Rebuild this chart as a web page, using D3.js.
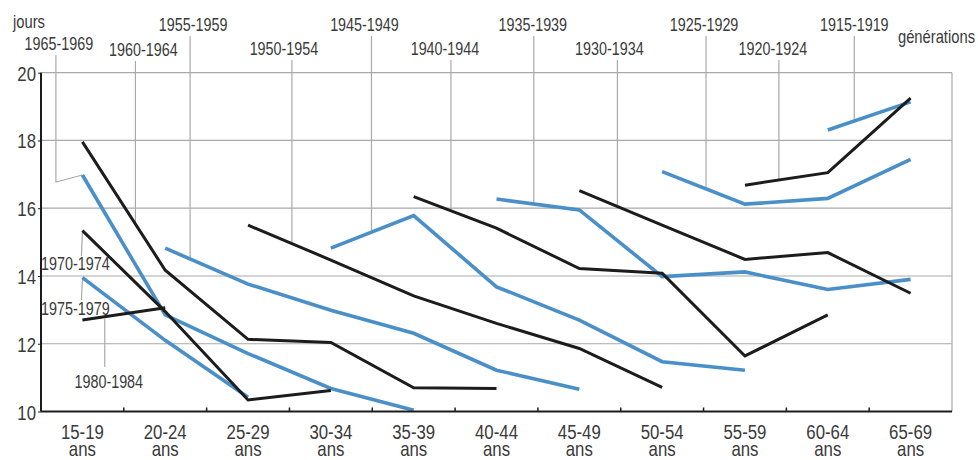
<!DOCTYPE html>
<html>
<head>
<meta charset="utf-8">
<script src="https://cdn.jsdelivr.net/npm/d3@7"></script>
<style>
  body { margin: 0; background: #fff; }
  svg text { font-family: "Liberation Sans", Arial, sans-serif; fill: #3a3a3a; }
</style>
</head>
<body>
<svg id="chart" width="978" height="460"></svg>
<script>
// DATA
const ages = ["15-19", "20-24", "25-29", "30-34", "35-39", "40-44", "45-49", "50-54", "55-59", "60-64", "65-69"];
const yTicks = [10, 12, 14, 16, 18, 20];

const generations = ["1915-1919", "1920-1924", "1925-1929", "1930-1934", "1935-1939", "1940-1944", "1945-1949",
  "1950-1954", "1955-1959", "1960-1964", "1965-1969", "1970-1974", "1975-1979", "1980-1984"];
// first age group observed for each generation
const firstAge = ["60-64", "55-59", "50-54", "45-49", "40-44", "35-39", "30-34",
  "25-29", "20-24", "15-19", "15-19", "15-19", "15-19", "15-19"];
// jours, one value per age group from firstAge on
const days = [
  [18.31, 19.14],
  [16.68, 17.05, 19.25],
  [17.08, 16.12, 16.29, 17.44],
  [16.52, 15.5, 14.49, 14.69, 13.49],
  [16.27, 15.95, 13.98, 14.12, 13.6, 13.9],
  [16.34, 15.41, 14.22, 14.08, 11.64, 12.85],
  [14.82, 15.78, 13.68, 12.7, 11.47, 11.22],
  [15.5, 14.47, 13.41, 12.6, 11.86, 10.71],
  [14.82, 13.76, 12.99, 12.31, 11.22, 10.66],
  [17.96, 14.17, 12.13, 12.04, 10.7, 10.68],
  [16.98, 12.85, 11.71, 10.68, 10.04],
  [15.34, 12.95, 10.34, 10.62],
  [13.95, 12.1, 10.42],
  [12.7, 13.06]
];

// LAYOUT
const plot = { left: 41, right: 952, top: 72.7, bottom: 411.5 };
const blue = "#4a8fc8", black = "#1c1c1c", grid = "#a9a9a9";
const narrow = 0.82; // Arial Narrow look

// label placement: leader offset (in age bands from first point), text row, text shift
const leaderOffset = [0.32, 0.41, 0.53, 0.46, 0.45, 0.45, 0.49, 0.53, 0.30, 0.64, -0.32];
const labelRow = [31, 55, 31, 55, 31, 55, 31, 55, 31, 56, 50];
const labelShift = [0, -6, -2, -8, -1, -6, -7, -8, 3, 8, 3];

const svg = d3.select("#chart");

function addText(parent, px, py, str, size, anchor) {
  return parent.append("text")
    .attr("transform", `translate(${px},${py}) scale(${narrow},1)`)
    .attr("font-size", size)
    .attr("text-anchor", anchor || "middle")
    .text(str);
}

const x = d3.scaleBand().domain(ages).range([plot.left, plot.right]);
const cx = (a) => x(a) + x.bandwidth() / 2;
const y = d3.scaleLinear().domain([10, 20]).range([plot.bottom, plot.top]);

const series = generations.map((g, i) => {
  const start = ages.indexOf(firstAge[i]);
  return {
    key: g,
    color: i % 2 === 0 ? blue : black,
    points: days[i].map((v, j) => ({ age: ages[start + j], value: v })),
  };
});

// grid
svg.append("g")
  .selectAll("line")
  .data(yTicks.filter((d) => d > 10))
  .join("line")
  .attr("x1", plot.left).attr("x2", plot.right)
  .attr("y1", (d) => y(d)).attr("y2", (d) => y(d))
  .attr("stroke", grid).attr("stroke-width", 1.2);

svg.append("line")
  .attr("x1", plot.right).attr("x2", plot.right)
  .attr("y1", plot.top).attr("y2", plot.bottom)
  .attr("stroke", grid).attr("stroke-width", 1.2);

// leaders for the generation labels
const lineAt = (s, px) => {
  const p0 = s.points[0], p1 = s.points[1];
  const x0 = cx(p0.age), x1 = cx(p1.age);
  const t = (px - x0) / (x1 - x0);
  return y(p0.value + t * (p1.value - p0.value));
};

const gLead = svg.append("g").attr("stroke", grid).attr("stroke-width", 1.2).attr("fill", "none");
const gLab = svg.append("g");

leaderOffset.forEach((off, i) => {
  const s = series[i];
  const px = cx(s.points[0].age) + off * x.bandwidth();
  const top = labelRow[i] + 5;
  if (off < 0) {
    const p0 = s.points[0];
    const yy = y(p0.value) + 7;
    gLead.append("path").attr("d", `M${px},${top}V${yy}L${cx(p0.age)},${y(p0.value)}`);
  } else {
    gLead.append("line").attr("x1", px).attr("x2", px)
      .attr("y1", top).attr("y2", lineAt(s, px));
  }
  addText(gLab, px + labelShift[i], labelRow[i], s.key, 17.5);
});

// left-side labels
const s1970 = series[11], s1975 = series[12], s1980 = series[13];
const lx = cx("15-19");
gLead.append("line").attr("x1", lx).attr("x2", lx - 1)
  .attr("y1", y(s1970.points[0].value) + 2).attr("y2", 256);
gLead.append("line").attr("x1", lx).attr("x2", lx - 1)
  .attr("y1", y(s1975.points[0].value) + 2).attr("y2", 300);
const x1980 = lx + 0.27 * x.bandwidth();
gLead.append("line").attr("x1", x1980).attr("x2", x1980)
  .attr("y1", lineAt(s1980, x1980) + 2).attr("y2", 367);

addText(gLab, plot.left, 270, s1970.key, 17.5, "start");
addText(gLab, plot.left, 315, s1975.key, 17.5, "start");
addText(gLab, x1980 + 4, 388, s1980.key, 17.5);

// series lines
const line = d3.line().x((d) => cx(d.age)).y((d) => y(d.value));
const ordered = series.filter((s) => s.color === blue).concat(series.filter((s) => s.color === black));
svg.append("g")
  .selectAll("path")
  .data(ordered, (d) => d.key)
  .join("path")
  .attr("d", (d) => line(d.points))
  .attr("fill", "none")
  .attr("stroke", (d) => d.color)
  .attr("stroke-width", (d) => (d.color === blue ? 3.6 : 3))
  .attr("stroke-linejoin", "miter");

// axes
svg.append("g")
  .attr("transform", `translate(${plot.left},0)`)
  .call(d3.axisLeft(y).tickValues(yTicks).tickSize(3).tickFormat(""))
  .call((g) => g.select(".domain").attr("stroke", black).attr("stroke-width", 2).attr("d", `M0,${plot.top}V${plot.bottom}`))
  .call((g) => g.selectAll(".tick line").attr("stroke", black));

const gyl = svg.append("g");
yTicks.forEach((d) => addText(gyl, 36, y(d) + 8, d, 20.5, "end"));

const gx = svg.append("g")
  .attr("transform", `translate(0,${plot.bottom})`)
  .call(d3.axisBottom(x).tickSize(0).tickFormat(""))
  .call((g) => g.select(".domain").attr("stroke", black).attr("stroke-width", 2).attr("d", `M${plot.left},0H${plot.right}`));

gx.selectAll(".boundary")
  .data(ages.slice(1))
  .join("line")
  .attr("class", "boundary")
  .attr("x1", (d) => x(d)).attr("x2", (d) => x(d))
  .attr("y1", -4).attr("y2", 0)
  .attr("stroke", black).attr("stroke-width", 1.5);

ages.forEach((a) => {
  addText(gx, cx(a), 27, a, 20.5);
  addText(gx, cx(a), 44, "ans", 20.5);
});

// titles
addText(svg, 13, 28, "jours", 18, "start");
addText(svg, 975, 43, "générations", 18, "end");
</script>
</body>
</html>
